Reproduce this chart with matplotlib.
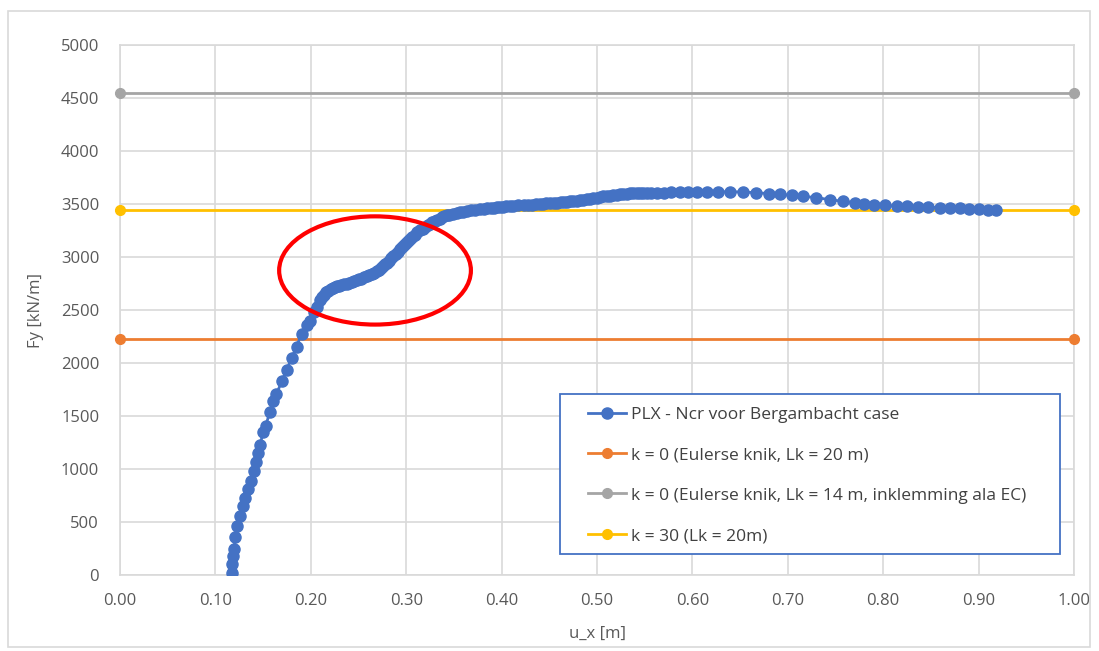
import matplotlib
matplotlib.use("Agg")
import matplotlib.pyplot as plt
from matplotlib.patches import Ellipse, Rectangle

# PLAXIS load-displacement curve, u_x [m] vs Fy [kN/m]
ux = [0.1177, 0.1172, 0.1180, 0.1195, 0.1210, 0.1230, 0.1258, 0.1286, 0.1310, 0.1345,
      0.1370, 0.1405, 0.1430, 0.1450, 0.1468, 0.1500, 0.1527, 0.1570, 0.1607, 0.1640,
      0.1695, 0.1747, 0.1800, 0.1850, 0.1905, 0.1960, 0.1990, 0.2030, 0.2060, 0.2096,
      0.2120, 0.2140, 0.2162, 0.2184, 0.2207, 0.2230, 0.2250, 0.2271, 0.2295, 0.2320,
      0.2348, 0.2376, 0.2403, 0.2430, 0.2455, 0.2480, 0.2505, 0.2530, 0.2558, 0.2586,
      0.2613, 0.2640, 0.2665, 0.2690, 0.2712, 0.2735, 0.2757, 0.2778, 0.2800, 0.2820,
      0.2843, 0.2865, 0.2888, 0.2910, 0.2932, 0.2953, 0.2977, 0.3000, 0.3020, 0.3040,
      0.3065, 0.3090, 0.3118, 0.3145, 0.3172, 0.3200, 0.3225, 0.3250, 0.3275, 0.3300,
      0.3325, 0.3350, 0.3375, 0.3400, 0.3425, 0.3450, 0.3490, 0.3530, 0.3565, 0.3600,
      0.3640, 0.3680, 0.3725, 0.3770, 0.3810, 0.3850, 0.3885, 0.3920, 0.3950, 0.3980,
      0.4015, 0.4050, 0.4085, 0.4120, 0.4175, 0.4230, 0.4275, 0.4320, 0.4360, 0.4400,
      0.4435, 0.4470, 0.4510, 0.4550, 0.4585, 0.4620, 0.4650, 0.4680, 0.4715, 0.4750,
      0.4785, 0.4820, 0.4855, 0.4890, 0.4925, 0.4960, 0.4995, 0.5030, 0.5065, 0.5100,
      0.5135, 0.5170, 0.5205, 0.5240, 0.5275, 0.5310, 0.5345, 0.5380, 0.5415, 0.5450,
      0.5485, 0.5520, 0.5570, 0.5626, 0.5700, 0.5780, 0.5870, 0.5950, 0.6045, 0.6150,
      0.6270, 0.6390, 0.6530, 0.6670, 0.6800, 0.6920, 0.7040, 0.7160, 0.7300, 0.7440,
      0.7580, 0.7700, 0.7800, 0.7900, 0.8020, 0.8140, 0.8250, 0.8360, 0.8470, 0.8590,
      0.8700, 0.8800, 0.8900, 0.9000, 0.9100, 0.9185]
fy = [22, 101, 180, 243, 359, 463, 558, 652, 731, 810,
      888, 983, 1065, 1147, 1229, 1345, 1408, 1534, 1645, 1708,
      1827, 1938, 2048, 2155, 2275, 2360, 2400, 2479, 2530, 2590,
      2620, 2645, 2666, 2684, 2696, 2705, 2714, 2722, 2729, 2735,
      2741, 2748, 2755, 2762, 2770, 2779, 2788, 2797, 2807, 2817,
      2828, 2840, 2853, 2867, 2882, 2897, 2913, 2930, 2948, 2967,
      2986, 3006, 3028, 3050, 3072, 3094, 3115, 3135, 3155, 3173,
      3193, 3212, 3232, 3251, 3268, 3285, 3300, 3315, 3328, 3340,
      3351, 3362, 3374, 3385, 3393, 3400, 3408, 3415, 3422, 3428,
      3434, 3440, 3446, 3452, 3456, 3460, 3463, 3466, 3469, 3472,
      3475, 3478, 3481, 3484, 3487, 3490, 3493, 3495, 3498, 3500,
      3503, 3505, 3508, 3510, 3513, 3515, 3518, 3520, 3524, 3527,
      3531, 3535, 3540, 3545, 3551, 3556, 3561, 3566, 3571, 3575,
      3580, 3584, 3588, 3592, 3595, 3598, 3600, 3602, 3604, 3605,
      3606, 3607, 3608, 3608, 3608, 3609, 3610, 3610, 3612, 3614,
      3616, 3615, 3614, 3606, 3598, 3592, 3582, 3573, 3560, 3541,
      3525, 3512, 3500, 3492, 3486, 3482, 3478, 3474, 3470, 3466,
      3462, 3458, 3454, 3450, 3447, 3443]

# reference buckling loads, drawn as horizontal lines from u_x = 0 to 1
ref_x = [0.0, 1.0]
ncr_euler_20 = 2226
ncr_euler_14 = 4547
ncr_k30 = 3443

labels = ["PLX - Ncr voor Bergambacht case",
          "k = 0 (Eulerse knik, Lk = 20 m)",
          "k = 0 (Eulerse knik, Lk = 14 m, inklemming ala EC)",
          "k = 30 (Lk = 20m)"]

plt.rcParams["font.family"] = ["Open Sans", "DejaVu Sans"]
grey_txt = "#595959"

fig = plt.figure(figsize=(10.99, 6.51), dpi=100)
ax = fig.add_axes([0.1092, 0.1167, 0.8681, 0.8142])

fig.patches.append(Rectangle((8 / 1099, 4 / 651), 1082 / 1099, 636 / 651,
                             transform=fig.transFigure, fill=False,
                             edgecolor="#d9d9d9", lw=1.2))

ax.plot(ux, fy, "-o", color="#4472c4", lw=2, ms=8, label=labels[0], zorder=4)
ax.plot(ref_x, [ncr_euler_20] * 2, "-o", color="#ed7d31", lw=2, ms=7,
        label=labels[1], clip_on=False, zorder=3)
ax.plot(ref_x, [ncr_euler_14] * 2, "-o", color="#a5a5a5", lw=2, ms=7,
        label=labels[2], clip_on=False, zorder=3)
ax.plot(ref_x, [ncr_k30] * 2, "-o", color="#ffc000", lw=2, ms=7,
        label=labels[3], clip_on=False, zorder=3)

ax.add_patch(Ellipse((0.2673, 2873), 0.201, 1021, fill=False,
                     edgecolor="#ff0000", lw=3, zorder=5))

ax.set_xlim(0, 1)
ax.set_ylim(0, 5000)
ax.set_xticks([i / 10 for i in range(11)])
ax.set_xticklabels([f"{i / 10:.2f}" for i in range(11)])
ax.set_yticks(range(0, 5001, 500))
ax.grid(True, color="#d9d9d9", lw=1.2)
ax.set_axisbelow(True)
for s in ax.spines.values():
    s.set_color("#d9d9d9")
    s.set_linewidth(1.2)
ax.tick_params(length=0, labelsize=12, colors=grey_txt, pad=13)
ax.tick_params(axis="y", pad=15)

ax.set_xlabel("u_x [m]", fontsize=12, color=grey_txt, labelpad=12)
ax.set_ylabel("Fy [kN/m]", fontsize=12, color=grey_txt, labelpad=12)

# legend box drawn separately so the inner offsets can be set freely
ax.add_patch(Rectangle((0.461, 0.040), 0.524, 0.302, transform=ax.transAxes,
                       facecolor="white", edgecolor="#4472c4", lw=1.3, zorder=6))
leg = ax.legend(loc="upper left", bbox_to_anchor=(0.4906, 0.318), frameon=False,
                borderaxespad=0, borderpad=0, fontsize=12.5, labelspacing=1.4,
                handlelength=2.2, handletextpad=0.3)
leg.set_zorder(7)
for t in leg.get_texts():
    t.set_color("#404040")

fig.savefig("out.png", dpi=100)
